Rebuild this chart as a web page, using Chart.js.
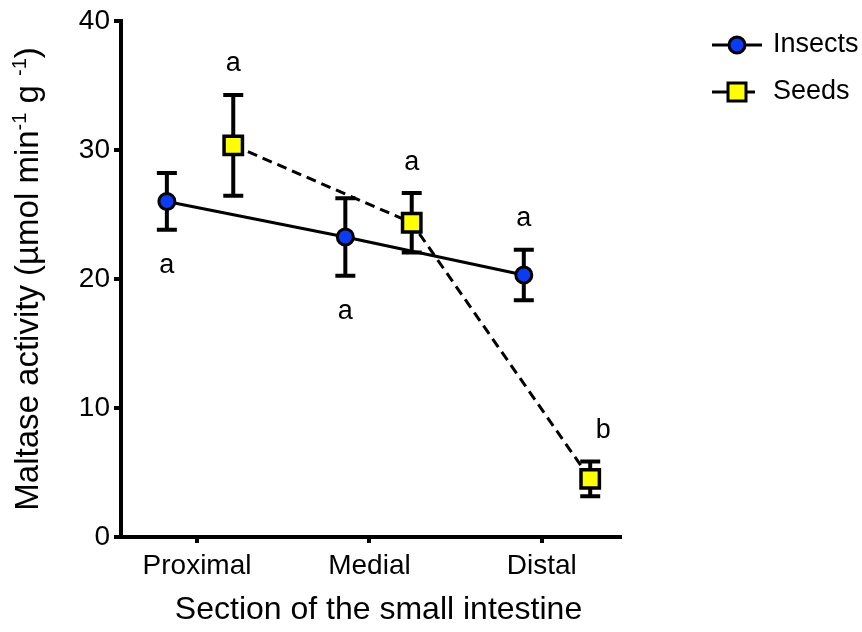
<!DOCTYPE html>
<html lang="en">
<head>
<meta charset="UTF-8">
<title>Maltase activity along the small intestine</title>
<script src="https://cdn.jsdelivr.net/npm/chart.js"></script>
<style>
    html, body { margin: 0; padding: 0; background: #fff; }
    #wrap { width: 862px; height: 632px; position: relative; }
</style>
</head>
<body>
<div id="wrap"><canvas id="maltaseChart"></canvas></div>
<script>
// Sections of the small intestine
var sections = ['Proximal', 'Medial', 'Distal'];

// Maltase activity, mean and error bar (µmol min-1 g-1)
var insectsMean = [26.0, 23.25, 20.3];
var insectsErr = [2.2, 3.0, 1.95];
var seedsMean = [30.35, 24.35, 4.5];
var seedsErr = [3.9, 2.3, 1.35];

// Significance letters and which end of the error bar they sit by
var insectsLetters = ['a', 'a', 'a'];
var insectsLetterSide = ['below', 'below', 'above'];
var seedsLetters = ['a', 'a', 'b'];
var seedsLetterSide = ['above', 'above', 'above'];

var yTicks = [0, 10, 20, 30, 40];

var FONT = "'Liberation Sans', Arial, sans-serif";
var dodge = 0.186;          // groups sit either side of the section centre
var tickStart = -0.017;     // x tick marks
var tickStep = 0.966;

function pts(means, shift) {
    return means.map(function (v, i) { return { x: i + shift, y: v }; });
}

// error bars with caps, drawn under the markers
var errorBars = {
    id: 'errorBars',
    beforeDatasetsDraw: function (chart) {
        var ctx = chart.ctx, xs = chart.scales.x, ys = chart.scales.y;
        var sets = [[insectsMean, insectsErr, -dodge], [seedsMean, seedsErr, dodge]];
        ctx.save();
        ctx.strokeStyle = '#000';
        ctx.lineWidth = 4;
        sets.forEach(function (s) {
            s[0].forEach(function (m, i) {
                var x = xs.getPixelForValue(i + s[2]);
                var top = ys.getPixelForValue(m + s[1][i]);
                var bot = ys.getPixelForValue(m - s[1][i]);
                ctx.beginPath();
                ctx.moveTo(x, top); ctx.lineTo(x, bot);
                ctx.moveTo(x - 10, top); ctx.lineTo(x + 10, top);
                ctx.moveTo(x - 10, bot); ctx.lineTo(x + 10, bot);
                ctx.stroke();
            });
        });
        ctx.restore();
    }
};

// letters, legend and both axis titles
var annotations = {
    id: 'annotations',
    afterDraw: function (chart) {
        var ctx = chart.ctx, xs = chart.scales.x, ys = chart.scales.y;
        ctx.save();
        ctx.fillStyle = '#000';
        ctx.font = '27px ' + FONT;
        ctx.textAlign = 'center';
        ctx.textBaseline = 'middle';
        var groups = [
            [insectsMean, insectsErr, insectsLetters, insectsLetterSide, -dodge],
            [seedsMean, seedsErr, seedsLetters, seedsLetterSide, dodge]
        ];
        groups.forEach(function (g) {
            g[0].forEach(function (m, i) {
                var x = xs.getPixelForValue(i + g[4]);
                var y;
                if (g[3][i] === 'above') y = ys.getPixelForValue(m + g[1][i]) - 31;
                else y = ys.getPixelForValue(m - g[1][i]) + 36;
                // the last letter leans right of its bar
                if (i === g[0].length - 1 && g[4] > 0) x += 13;
                ctx.fillText(g[2][i], x, y);
            });
        });

        // x axis title, centred under the plotted groups
        ctx.font = '32px ' + FONT;
        var xMid = (xs.getPixelForValue(-dodge) + xs.getPixelForValue(sections.length - 1 + dodge)) / 2;
        ctx.fillText('Section of the small intestine', xMid, 610);

        // legend
        var lx = 712, lw = 50;
        ctx.lineWidth = 3;
        ctx.strokeStyle = '#000';
        ctx.beginPath();
        ctx.moveTo(lx, 45); ctx.lineTo(lx + lw, 45);
        ctx.stroke();
        ctx.beginPath();
        ctx.arc(lx + lw / 2, 45, 8, 0, Math.PI * 2);
        ctx.fillStyle = '#0b3cf4';
        ctx.fill();
        ctx.stroke();

        ctx.beginPath();
        ctx.moveTo(lx, 92); ctx.lineTo(lx + 16, 92);
        ctx.moveTo(lx + 34, 92); ctx.lineTo(lx + 43, 92);
        ctx.stroke();
        ctx.fillStyle = '#ffff00';
        ctx.fillRect(lx + lw / 2 - 9, 92 - 9, 18, 18);
        ctx.strokeRect(lx + lw / 2 - 9, 92 - 9, 18, 18);

        ctx.fillStyle = '#000';
        ctx.textAlign = 'left';
        ctx.font = '27px ' + FONT;
        ctx.fillText('Insects', 773, 45);
        ctx.fillText('Seeds', 773, 92);

        // y axis title with superscripts
        var parts = [
            ['Maltase activity (\u00b5mol min', false],
            ['-1', true],
            [' g ', false],
            ['-1', true],
            [')', false]
        ];
        var big = '33px ' + FONT, small = '20px ' + FONT;
        var total = 0;
        parts.forEach(function (p) {
            ctx.font = p[1] ? small : big;
            total += ctx.measureText(p[0]).width;
        });
        var cy = (chart.chartArea.top + chart.chartArea.bottom) / 2;
        ctx.translate(38, cy);
        ctx.rotate(-Math.PI / 2);
        ctx.textBaseline = 'alphabetic';
        var px = -total / 2;
        parts.forEach(function (p) {
            ctx.font = p[1] ? small : big;
            ctx.fillText(p[0], px, p[1] ? -12 : 0);
            px += ctx.measureText(p[0]).width;
        });
        ctx.restore();
    }
};

var ctx = document.getElementById('maltaseChart').getContext('2d');
var maltaseChart = new Chart(ctx, {
    type: 'line',
    data: {
        datasets: [{
            label: 'Insects',
            data: pts(insectsMean, -dodge),
            borderColor: '#000',
            borderWidth: 3,
            pointStyle: 'circle',
            pointRadius: 8,
            pointBorderWidth: 3,
            pointBorderColor: '#000',
            pointBackgroundColor: '#0b3cf4',
            tension: 0
        }, {
            label: 'Seeds',
            data: pts(seedsMean, dodge),
            borderColor: '#000',
            borderWidth: 3,
            borderDash: [10, 6],
            pointStyle: 'rect',
            pointRadius: 13,
            pointBorderWidth: 3.5,
            pointBorderColor: '#000',
            pointBackgroundColor: '#ffff00',
            tension: 0
        }]
    },
    options: {
        responsive: true,
        maintainAspectRatio: false,
        animation: false,
        events: [],
        layout: { padding: { top: 20, right: 242, left: 0, bottom: 0 } },
        plugins: {
            legend: { display: false },
            tooltip: { enabled: false }
        },
        scales: {
            x: {
                type: 'linear',
                min: -0.443,
                max: 2.353,
                afterBuildTicks: function (scale) {
                    scale.ticks = sections.map(function (s, i) {
                        return { value: tickStart + i * tickStep };
                    });
                },
                afterFit: function (scale) { scale.height = 95; },
                ticks: {
                    autoSkip: false,
                    maxRotation: 0,
                    color: '#000',
                    font: { family: FONT, size: 28 },
                    padding: 6,
                    callback: function (v, i) { return sections[i]; }
                },
                grid: { drawOnChartArea: false, drawTicks: true, tickLength: 6, color: '#000', lineWidth: 4 },
                border: { display: true, color: '#000', width: 4 }
            },
            y: {
                min: 0,
                max: 40,
                afterBuildTicks: function (scale) {
                    scale.ticks = yTicks.map(function (v) { return { value: v }; });
                },
                afterFit: function (scale) { scale.width = 121; },
                ticks: {
                    color: '#000',
                    font: { family: FONT, size: 28 },
                    padding: 4
                },
                grid: { drawOnChartArea: false, drawTicks: true, tickLength: 7, color: '#000', lineWidth: 4 },
                border: { display: true, color: '#000', width: 4 }
            }
        }
    },
    plugins: [errorBars, annotations]
});
</script>
</body>
</html>
